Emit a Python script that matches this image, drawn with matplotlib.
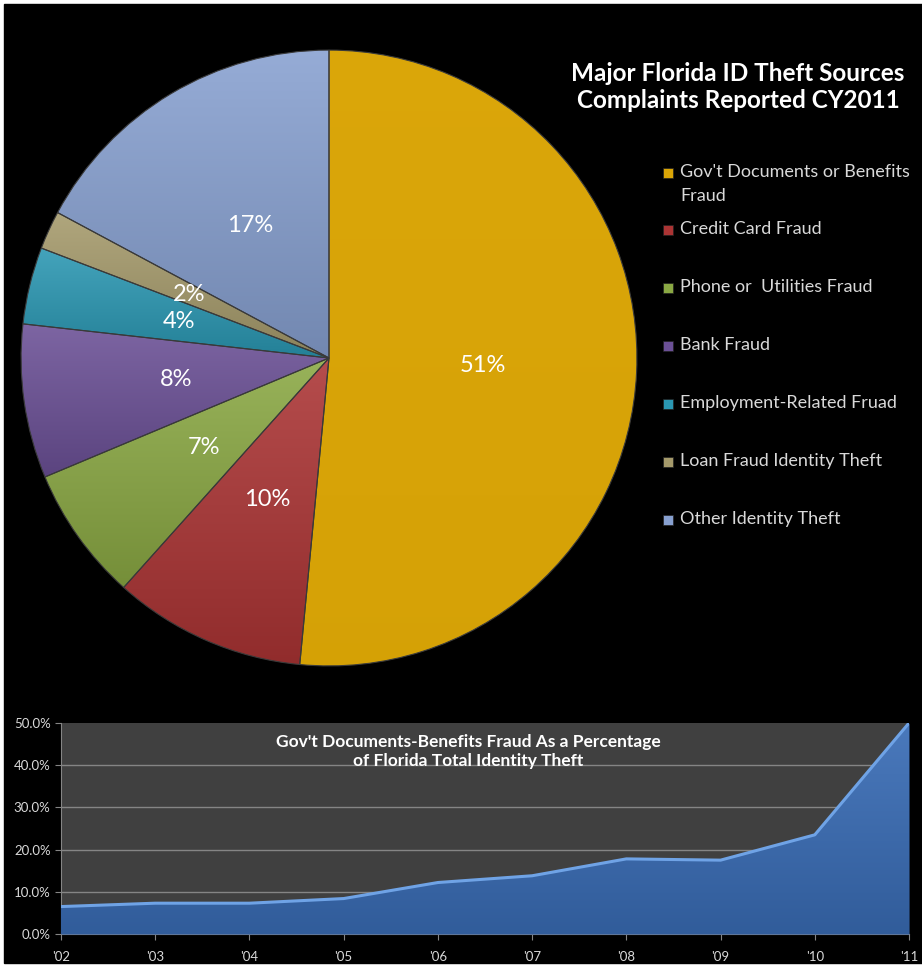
import numpy as np
import matplotlib
matplotlib.use("Agg")
import matplotlib.pyplot as plt
from matplotlib.patches import Rectangle
from matplotlib.colors import to_rgb

# pie data (CY2011 complaint shares, %)
sources = [
    "Gov't Documents or Benefits\nFraud",
    "Credit Card Fraud",
    "Phone or  Utilities Fraud",
    "Bank Fraud",
    "Employment-Related Fruad",
    "Loan Fraud Identity Theft",
    "Other Identity Theft",
]
shares = [51, 10, 7, 8, 4, 2, 17]
share_labels = ["51%", "10%", "7%", "8%", "4%", "2%", "17%"]
colors = ["#DAA506", "#AB3434", "#8AA843", "#6B5096", "#2A97B2", "#A59A6B", "#87A0D0"]
# shading strength per slice (the big gold one is nearly flat)
shade = [0.02, 0.15, 0.15, 0.15, 0.15, 0.15, 0.15]

# area chart data
years = ["'02", "'03", "'04", "'05", "'06", "'07", "'08", "'09", "'10", "'11"]
gov_pct = [6.5, 7.3, 7.3, 8.4, 12.2, 13.8, 17.8, 17.5, 23.5, 50.0]

W, H = 922, 967
plt.rcParams["font.family"] = ["Lato", "DejaVu Sans"]

fig = plt.figure(figsize=(W / 100, H / 100), dpi=100, facecolor="white")


def px(x0, y0, x1, y1):
    # pixel box (top-left origin) -> figure fraction rect
    return [x0 / W, 1 - y1 / H, (x1 - x0) / W, (y1 - y0) / H]


def vgrad(c, light=0.12, dark=0.18, n=64):
    # vertical gradient image, lighter on top, darker at the bottom
    c = np.array(to_rgb(c))
    top = c + (1 - c) * light
    bot = c * (1 - dark)
    t = np.linspace(0, 1, n)[:, None]
    return (top * (1 - t) + bot * t)[:, None, :]


# black panel
fig.patches.append(Rectangle((4 / W, 1 - 963 / H), 1, (963 - 4) / H,
                             transform=fig.transFigure, color="black", zorder=-10))

# ---- pie ----
ax = fig.add_axes(px(18, 47, 640, 669))
wedges, texts = ax.pie(
    shares,
    colors=colors,
    startangle=90,
    counterclock=False,
    labels=share_labels,
    labeldistance=0.5,
    radius=1,
    wedgeprops=dict(edgecolor="#3a3a3a", linewidth=0.8),
    textprops=dict(color="white", fontsize=17, zorder=5),
)
for w, c, s in zip(wedges, colors, shade):
    th = np.radians(np.linspace(w.theta1, w.theta2, 100))
    ys = np.concatenate([[0], np.sin(th)])
    xs = np.concatenate([[0], np.cos(th)])
    im = ax.imshow(vgrad(c, light=s * 0.8, dark=s), extent=(xs.min(), xs.max(), ys.min(), ys.max()),
                   aspect="auto", zorder=2, interpolation="bilinear")
    im.set_clip_path(w)
    w.set_zorder(3)
    w.set_facecolor("none")
for t in texts:
    t.set_ha("center")
    t.set_va("center")
ax.set_xlim(-1.01, 1.01)
ax.set_ylim(-1.01, 1.01)
ax.set_aspect("equal")
ax.axis("off")

fig.text(738 / W, 1 - 87 / H, "Major Florida ID Theft Sources\nComplaints Reported CY2011",
         color="white", fontsize=17.5, fontweight="bold", ha="center", va="center",
         linespacing=1.25)

# legend drawn by hand (irregular spacing like the original)
leg_y = [173, 230, 288, 346, 404, 462, 520]
for name, c, y in zip(sources, colors, leg_y):
    fig.patches.append(Rectangle(((668 - 5) / W, 1 - (y + 5) / H), 10 / W, 10 / H,
                                 transform=fig.transFigure, facecolor=c,
                                 edgecolor="#222222", linewidth=0.5))
    fig.text(680 / W, 1 - (y - 9) / H, name, color="#d9d9d9", fontsize=13,
             ha="left", va="top", linespacing=1.6)

# ---- area chart ----
ax2 = fig.add_axes(px(61, 723, 909, 934))
ax2.set_facecolor("#404040")
x = np.arange(len(years))
area = ax2.fill_between(x, gov_pct, 0, color="#3869B0", lw=0, zorder=3)
gim = ax2.imshow(vgrad("#3A6DB6", light=0.08, dark=0.15), extent=(0, len(years) - 1, 0, 50),
                 aspect="auto", zorder=3.5, interpolation="bilinear")
gim.set_clip_path(area.get_paths()[0], transform=ax2.transData)
ax2.plot(x, gov_pct, color="#6FA3E6", lw=2.2, zorder=4)
ax2.set_xlim(0, len(years) - 1)
ax2.set_ylim(0, 50)
ax2.set_yticks([0, 10, 20, 30, 40, 50])
ax2.set_yticklabels(["%.1f%%" % v for v in [0, 10, 20, 30, 40, 50]])
ax2.set_xticks(x)
ax2.set_xticklabels(years)
for v in [10, 20, 30, 40]:
    ax2.axhline(v, color="#858585", lw=1, zorder=1)
for s in ["top", "right"]:
    ax2.spines[s].set_visible(False)
for s in ["left", "bottom"]:
    ax2.spines[s].set_color("#858585")
ax2.tick_params(colors="#858585", labelcolor="#d9d9d9", labelsize=9.5, length=4,
                direction="out")
ax2.tick_params(axis="x", pad=8)
ax2.text(0.48, 0.95, "Gov't Documents-Benefits Fraud As a Percentage\nof Florida Total Identity Theft",
         transform=ax2.transAxes, color="white", fontsize=12.5, fontweight="bold",
         ha="center", va="top", linespacing=1.3, zorder=5)

fig.savefig("out.png", dpi=100, facecolor=fig.get_facecolor())
